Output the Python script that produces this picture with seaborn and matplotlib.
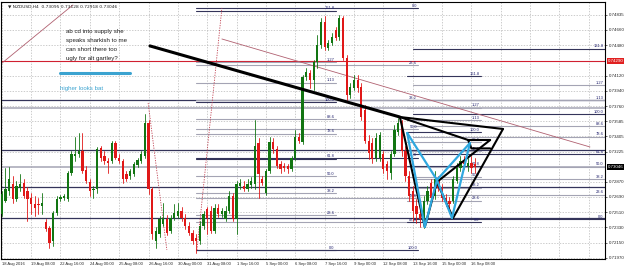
import matplotlib
matplotlib.use("Agg")
import matplotlib.pyplot as plt
import numpy as np
import pandas as pd
import seaborn as sns

# ---------------- data ----------------
opens = [0.72491, 0.72645, 0.72763, 0.72846, 0.72668, 0.72799, 0.72858, 0.72763, 0.72680, 0.72609,
         0.72609, 0.72586, 0.72396, 0.72325, 0.72171, 0.72503, 0.72668, 0.72680, 0.72668, 0.72976,
         0.73178, 0.73201, 0.73237, 0.73012, 0.72870, 0.72775, 0.72787, 0.73272, 0.73178, 0.73119,
         0.73119, 0.73320, 0.73154, 0.73119, 0.72964, 0.72941, 0.72964, 0.73071, 0.73119, 0.73178,
         0.73556, 0.72787, 0.72171, 0.72254, 0.72372, 0.72432, 0.72290, 0.72444, 0.72468, 0.72527,
         0.72444, 0.72349, 0.72266, 0.72207, 0.72171, 0.72349, 0.72550, 0.72527, 0.72290, 0.72562,
         0.72491, 0.72432, 0.72527, 0.72704, 0.72432, 0.72823, 0.72823, 0.72787, 0.72834, 0.72846,
         0.73320, 0.72905, 0.72739, 0.73000, 0.73332, 0.73260, 0.73083, 0.73060, 0.73060, 0.73024,
         0.73154, 0.73391, 0.73332, 0.74101, 0.74148, 0.74066, 0.74279, 0.74480, 0.74752, 0.74444,
         0.74504, 0.74658, 0.74575, 0.74800, 0.74326, 0.73888, 0.73971, 0.74066, 0.73983, 0.73711,
         0.73355, 0.73320, 0.73154, 0.73154, 0.73201, 0.73083, 0.72976, 0.73201, 0.73450, 0.73509,
         0.73237, 0.72941, 0.72763, 0.72586, 0.72491, 0.72444, 0.72645, 0.72858, 0.72704, 0.72882,
         0.72799, 0.72680, 0.72645, 0.72645, 0.72882, 0.73036, 0.73119, 0.73060, 0.73095, 0.73083]
highs = [0.72763, 0.73036, 0.73048, 0.72941, 0.72882, 0.72964, 0.72906, 0.72811, 0.72739, 0.72704,
         0.72680, 0.72739, 0.72432, 0.72349, 0.72527, 0.72704, 0.72716, 0.72727, 0.73000, 0.73237,
         0.73391, 0.73438, 0.73438, 0.73060, 0.72905, 0.72823, 0.73284, 0.73296, 0.73237, 0.73154,
         0.73355, 0.73355, 0.73201, 0.73142, 0.73000, 0.73024, 0.73107, 0.73154, 0.73237, 0.73664,
         0.73592, 0.72811, 0.72337, 0.72468, 0.72621, 0.72479, 0.72479, 0.72609, 0.72621, 0.72574,
         0.72491, 0.72396, 0.72302, 0.72254, 0.72408, 0.72527, 0.72574, 0.72586, 0.72609, 0.72609,
         0.72562, 0.72586, 0.72763, 0.72739, 0.72882, 0.72905, 0.72882, 0.72905, 0.72929, 0.73592,
         0.73379, 0.72941, 0.73024, 0.73391, 0.73379, 0.73296, 0.73119, 0.73095, 0.73083, 0.73178,
         0.73474, 0.73438, 0.74125, 0.74208, 0.74184, 0.74303, 0.74599, 0.74800, 0.74824, 0.74539,
         0.74622, 0.74693, 0.74835, 0.74824, 0.74362, 0.74030, 0.74125, 0.74125, 0.74030, 0.73770,
         0.73415, 0.73379, 0.73438, 0.73450, 0.73237, 0.73119, 0.73237, 0.73533, 0.73616, 0.73592,
         0.73296, 0.73000, 0.72823, 0.72668, 0.72586, 0.72704, 0.72823, 0.72905, 0.73000, 0.72941,
         0.72846, 0.72727, 0.72692, 0.72941, 0.73095, 0.73178, 0.73178, 0.73154, 0.73178, 0.73154]
lows = [0.72468, 0.72633, 0.72716, 0.72621, 0.72645, 0.72763, 0.72680, 0.72408, 0.72491, 0.72468,
        0.72491, 0.72491, 0.72290, 0.72088, 0.72112, 0.72479, 0.72645, 0.72656, 0.72645, 0.72953,
        0.73119, 0.73166, 0.72976, 0.72858, 0.72704, 0.72680, 0.72739, 0.73119, 0.73083, 0.72976,
        0.73095, 0.73142, 0.73095, 0.72858, 0.72882, 0.72905, 0.72941, 0.73048, 0.73095, 0.73154,
        0.72727, 0.72195, 0.72088, 0.72219, 0.72349, 0.72243, 0.72266, 0.72420, 0.72444, 0.72408,
        0.72313, 0.72243, 0.72135, 0.72029, 0.72135, 0.72313, 0.72254, 0.72266, 0.72266, 0.72456,
        0.72456, 0.72408, 0.72503, 0.72408, 0.72254, 0.72787, 0.72763, 0.72763, 0.72799, 0.72787,
        0.72680, 0.72834, 0.72716, 0.72976, 0.73213, 0.73036, 0.72976, 0.73000, 0.72976, 0.73000,
        0.73131, 0.73320, 0.73308, 0.74066, 0.73971, 0.73947, 0.74208, 0.74444, 0.74421, 0.74421,
        0.74480, 0.74539, 0.74539, 0.74303, 0.73829, 0.73852, 0.73947, 0.73923, 0.73592, 0.73320,
        0.73142, 0.73095, 0.73119, 0.73119, 0.72976, 0.72905, 0.72905, 0.73178, 0.73415, 0.73178,
        0.72882, 0.72645, 0.72408, 0.72384, 0.72337, 0.72325, 0.72609, 0.72645, 0.72668, 0.72763,
        0.72645, 0.72586, 0.72503, 0.72621, 0.72858, 0.73000, 0.73024, 0.73000, 0.72976, 0.72976]
closes = [0.72727, 0.72787, 0.72905, 0.72668, 0.72823, 0.72846, 0.72704, 0.72668, 0.72609, 0.72562,
          0.72598, 0.72621, 0.72313, 0.72147, 0.72503, 0.72668, 0.72692, 0.72704, 0.72976, 0.73201,
          0.73201, 0.73237, 0.73000, 0.72882, 0.72763, 0.72787, 0.73260, 0.73154, 0.73119, 0.73095,
          0.73320, 0.73154, 0.73119, 0.72905, 0.72905, 0.73000, 0.73083, 0.73131, 0.73201, 0.73556,
          0.72787, 0.72254, 0.72290, 0.72432, 0.72444, 0.72266, 0.72444, 0.72503, 0.72527, 0.72444,
          0.72349, 0.72266, 0.72171, 0.72171, 0.72349, 0.72491, 0.72444, 0.72290, 0.72562, 0.72491,
          0.72527, 0.72527, 0.72704, 0.72432, 0.72846, 0.72858, 0.72787, 0.72846, 0.72882, 0.73296,
          0.72964, 0.72858, 0.73000, 0.73332, 0.73260, 0.73060, 0.73024, 0.73036, 0.73024, 0.73154,
          0.73391, 0.73355, 0.74101, 0.74160, 0.74066, 0.74279, 0.74480, 0.74752, 0.74456, 0.74504,
          0.74575, 0.74563, 0.74800, 0.74326, 0.73888, 0.73983, 0.74066, 0.73971, 0.73628, 0.73355,
          0.73213, 0.73142, 0.73379, 0.73415, 0.73024, 0.73000, 0.73201, 0.73474, 0.73556, 0.73237,
          0.72941, 0.72704, 0.72527, 0.72491, 0.72432, 0.72645, 0.72763, 0.72680, 0.72905, 0.72799,
          0.72680, 0.72645, 0.72609, 0.72905, 0.73036, 0.73119, 0.73083, 0.73095, 0.73036, 0.73046]

time_labels = ["18 Aug 2016", "19 Aug 08:00", "22 Aug 16:00", "24 Aug 00:00", "25 Aug 08:00",
               "26 Aug 16:00", "30 Aug 00:00", "31 Aug 08:00", "1 Sep 16:00", "5 Sep 00:00",
               "6 Sep 08:00", "7 Sep 16:00", "9 Sep 00:00", "12 Sep 08:00", "13 Sep 16:00",
               "15 Sep 00:00", "16 Sep 08:00"]
price_ticks = [0.74835, 0.74660, 0.74480, 0.74120, 0.73940, 0.73760, 0.73585, 0.73405,
               0.73225, 0.72870, 0.72690, 0.72510, 0.72330, 0.72150, 0.71970]
title_text = "NZDUSD,H4  0.73095 0.73128 0.72918 0.73046"
last_price = 0.73046
hline_price = 0.74290

# older levels running across the whole chart
full_levels = [0.73833, 0.73739, 0.73243, 0.73043, 0.72807, 0.72442]
full_dark = [True, False, True, False, True, True]

# Fibonacci objects: level ratios (%) and labels
fib_ratios = [0.0, 23.6, 38.2, 50.0, 61.8, 78.6, 88.6, 100.0, 113.0, 127.0, 161.8]
fib_labels = ["0.0", "23.6", "38.2", "50.0", "61.8", "78.6", "88.6", "100.0", "1.13", "1.27", "161.8"]
# (price at 0 %, price at 100 %, first bar, last bar, number of levels used)
fib_A = (0.72064, 0.73809, 53, 91, 11)
fib_B = (0.74918, 0.72064, 53, 113.5, 8)
fib_C = (0.72394, 0.73456, 110.5, 130.5, 11)
fib_D = (0.72424, 0.73668, 112, 164.3, 11)

# drawn objects (bar index, price)
trend_x = [40.4, 108.5]
trend_y = [0.74470, 0.73632]
pink_x = [60.0, 160.3]
pink_y = [0.74552, 0.73279]
pink2_x = [0.1, 19.4]
pink2_y = [0.74269, 0.74953]
dot1_x = [39.9, 45.0]
dot1_y = [0.73798, 0.72064]
dot2_x = [53.2, 60.0]
dot2_y = [0.72064, 0.74918]
black_pattern = [
    ([108.5, 127.1], [0.73632, 0.73361]),
    ([108.5, 136.6], [0.73632, 0.73491]),
    ([108.5, 115.3], [0.73632, 0.72336]),
    ([115.3, 118.6], [0.72336, 0.72866]),
    ([118.6, 123.0], [0.72866, 0.72442]),
    ([123.0, 136.6], [0.72442, 0.73491]),
    ([118.6, 133.1], [0.72866, 0.73361]),
    ([127.1, 133.1], [0.73361, 0.73361]),
    ([127.1, 128.0, 133.1], [0.73361, 0.73262, 0.73262]),
]
cyan_pattern = [
    ([110.5, 115.3], [0.73444, 0.72336]),
    ([115.3, 118.6], [0.72336, 0.72890]),
    ([118.6, 122.7], [0.72890, 0.72442]),
    ([122.7, 127.6], [0.72442, 0.73326]),
    ([110.5, 118.6], [0.73444, 0.72890]),
    ([118.6, 127.6], [0.72890, 0.73326]),
]
note_lines = ["ab cd into supply she", "speaks sharkish to me", "can short there too",
              "ugly for alt gartley?"]
note2 = "higher looks bat"

# ---------------- figure ----------------
sns.set_style("white")
plt.rcParams['font.family'] = ['Liberation Sans', 'DejaVu Sans']
W, H = 625, 269
fig = plt.figure(figsize=(W / 100, H / 100), dpi=100)
ax = fig.add_axes([1 / W, 10 / H, 604 / W, 257 / H])
ax.set_xlim(-0.2, 164.4)
ax.set_ylim(0.71958, 0.74988)

n = len(opens)
df = pd.DataFrame({"i": np.arange(n), "o": opens, "h": highs, "l": lows, "c": closes})
up = df.c >= df.o

# grid
for k in range(0, 168, 8):
    ax.axvline(k, color="#b8b8b8", lw=0.5, ls=(0, (2, 2)), zorder=0)
for p in price_ticks:
    ax.axhline(p, color="#b8b8b8", lw=0.5, ls=(0, (2, 2)), zorder=0)

# level lines
dark, light, lab = "#34345a", "#a4a4b4", "#22226e"
for p, d in zip(full_levels, full_dark):
    ax.plot([-1, 166], [p, p], color=dark if d else light, lw=0.9 if d else 1.1, zorder=1)
ax.axhline(hline_price, color="#d02030", lw=0.8, zorder=1)

for p0, p100, b0, b1, m in (fib_A, fib_B, fib_C, fib_D):
    for r, t in zip(fib_ratios[:m], fib_labels[:m]):
        p = p0 + (p100 - p0) * r / 100.0
        isdark = t in ("0.0", "61.8", "100.0", "161.8")
        ax.plot([b0, b1], [p, p], color=dark if isdark else light, lw=0.8, zorder=1)
        ax.text(b1 - 0.3, p + 0.00004, t, fontsize=2.9, color=lab, ha="right", va="bottom", zorder=2)

# candles
green, red = "#127512", "#e01818"
for _, r in df.iterrows():
    col = green if r.c >= r.o else red
    ax.plot([r.i, r.i], [r.l, r.h], color=col, lw=0.6, zorder=3)
bot = np.minimum(df.o, df.c)
ht = np.maximum(np.abs(df.c - df.o), 0.00004)
ax.bar(df.i, ht, bottom=bot, width=0.62, color=np.where(up, green, red), lw=0, zorder=4)

# drawn lines
ax.plot(pink2_x, pink2_y, color="#b06070", lw=0.6, zorder=2)
ax.plot(pink_x, pink_y, color="#b06070", lw=0.6, zorder=2)
ax.plot(dot1_x, dot1_y, color="#c04050", lw=0.6, ls=(0, (1.5, 1.5)), zorder=2)
ax.plot(dot2_x, dot2_y, color="#c04050", lw=0.6, ls=(0, (1.5, 1.5)), zorder=2)
sns.lineplot(x=trend_x, y=trend_y, color="black", lw=2.2, ax=ax, zorder=5)
for xs, ys in black_pattern:
    sns.lineplot(x=xs, y=ys, color="black", lw=1.5, ax=ax, zorder=5, sort=False)
for xs, ys in cyan_pattern:
    sns.lineplot(x=xs, y=ys, color="#2fa8df", lw=1.6, ax=ax, zorder=6)

# annotation text
for j, t in enumerate(note_lines):
    ax.text(17.5, 0.74640 - j * 0.00105, t, fontsize=4.4, color="#202020", va="center", zorder=7)
ax.plot([15.9, 35.0], [0.74151, 0.74151], color="#3ba3d0", lw=2.2, zorder=7)
ax.text(15.9, 0.73974, note2, fontsize=4.4, color="#3ba3d0", va="center", zorder=7)

ax.text(1.8, 0.74935, "\u25BC " + title_text, fontsize=3.2, color="#202020", va="center",
        family=["DejaVu Sans"])

# axes / ticks
ax.yaxis.tick_right()
ax.set_yticks(price_ticks)
ax.set_yticklabels([f"{p:.5f}" for p in price_ticks], fontsize=3.2)
ax.set_xticks(np.arange(0, 8 * len(time_labels), 8))
ax.set_xticklabels(time_labels, fontsize=3.0, ha="left")
ax.tick_params(length=1.5, width=0.5, pad=1.0)
for s in ax.spines.values():
    s.set_linewidth(0.8)
    s.set_color("black")

ax.text(1.004, hline_price, f"{hline_price:.5f}", transform=ax.get_yaxis_transform(), fontsize=3.2,
        color="white", va="center", ha="left", bbox=dict(boxstyle="square,pad=0.2", fc="#e02020", ec="none"))
ax.text(1.004, last_price, f"{last_price:.5f}", transform=ax.get_yaxis_transform(), fontsize=3.2,
        color="white", va="center", ha="left", bbox=dict(boxstyle="square,pad=0.2", fc="black", ec="none"))

fig.savefig("out.png", dpi=100)
